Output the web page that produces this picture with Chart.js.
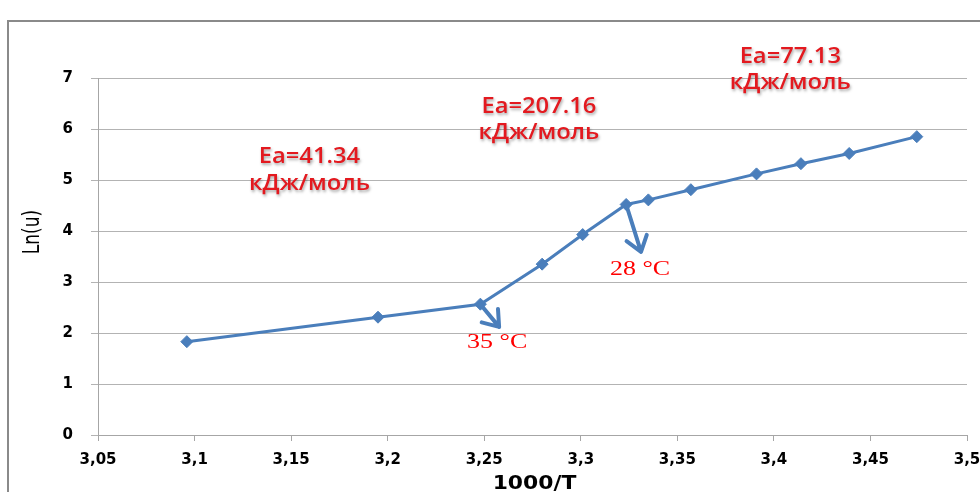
<!DOCTYPE html>
<html>
<head>
<meta charset="utf-8">
<script src="https://cdn.jsdelivr.net/npm/chart.js@4.4.1/dist/chart.umd.min.js"></script>
<style>
  html, body { margin: 0; padding: 0; background: #ffffff; }
  #wrap { position: relative; width: 980px; height: 492px; }
</style>
</head>
<body>
<div id="wrap"><canvas id="c" width="980" height="492"></canvas></div>
<script>
// ---- data ----
const xValues = [3.096, 3.195, 3.248, 3.280, 3.301, 3.3235, 3.335, 3.357, 3.391, 3.414, 3.439, 3.474];
const yValues = [1.83, 2.31, 2.565, 3.35, 3.93, 4.52, 4.61, 4.81, 5.12, 5.32, 5.52, 5.85];
const xTickValues = [3.05, 3.1, 3.15, 3.2, 3.25, 3.3, 3.35, 3.4, 3.45, 3.5];
const xTickLabels = ['3,05', '3,1', '3,15', '3,2', '3,25', '3,3', '3,35', '3,4', '3,45', '3,5'];
const yTickValues = [0, 1, 2, 3, 4, 5, 6, 7];
const yTickLabels = ['0', '1', '2', '3', '4', '5', '6', '7'];
const xTitle = '1000/T';
const yTitle = 'Ln(u)';
const eaTexts = [['Ea=41.34', 'кДж/моль'], ['Ea=207.16', 'кДж/моль'], ['Ea=77.13', 'кДж/моль']];
const tempTexts = ['35 °C', '28 °C'];

// annotation anchors in data units
const eaAnchors = [
  { x: 3.1595, y: [5.45, 4.92] },
  { x: 3.2783, y: [6.43, 5.92] },
  { x: 3.4085, y: [7.41, 6.90] }
];
const arrows = [
  { from: { x: xValues[2], y: yValues[2] }, to: { x: 3.2577, y: 2.12 }, label: { x: 3.2567, y: 1.80 } },
  { from: { x: xValues[5], y: yValues[5] }, to: { x: 3.3312, y: 3.59 }, label: { x: 3.3307, y: 3.24 } }
];

const BLUE = '#4a7ebb';
const RED_EA = '#e3191f';
const RED_T = '#ff0000';

const points = xValues.map((x, i) => ({ x: x, y: yValues[i] }));

function drawArrow(ctx, x1, y1, x2, y2) {
  const ang = Math.atan2(y2 - y1, x2 - x1);
  const head = 18, spread = 36 * Math.PI / 180;
  ctx.save();
  ctx.strokeStyle = BLUE;
  ctx.lineWidth = 4;
  ctx.lineCap = 'round';
  ctx.lineJoin = 'round';
  ctx.beginPath();
  ctx.moveTo(x1, y1);
  ctx.lineTo(x2, y2);
  ctx.moveTo(x2 - head * Math.cos(ang - spread), y2 - head * Math.sin(ang - spread));
  ctx.lineTo(x2, y2);
  ctx.lineTo(x2 - head * Math.cos(ang + spread), y2 - head * Math.sin(ang + spread));
  ctx.stroke();
  ctx.restore();
}

const decor = {
  id: 'decor',
  beforeDraw(chart) {
    const ctx = chart.ctx;
    ctx.save();
    ctx.strokeStyle = '#8a8a8a';
    ctx.lineWidth = 2;
    ctx.beginPath();
    ctx.moveTo(8, 492);
    ctx.lineTo(8, 21);
    ctx.lineTo(980, 21);
    ctx.stroke();
    ctx.restore();
  },
  afterDraw(chart) {
    const ctx = chart.ctx;
    const xs = chart.scales.x, ys = chart.scales.y;
    const ca = chart.chartArea;

    arrows.forEach(a => {
      drawArrow(ctx, xs.getPixelForValue(a.from.x), ys.getPixelForValue(a.from.y),
                xs.getPixelForValue(a.to.x), ys.getPixelForValue(a.to.y));
    });

    arrows.forEach((a, i) => {
      ctx.save();
      ctx.translate(xs.getPixelForValue(a.label.x), ys.getPixelForValue(a.label.y));
      ctx.scale(1.3, 1);
      ctx.font = '20px "Liberation Serif", "DejaVu Serif", serif';
      ctx.fillStyle = RED_T;
      ctx.textAlign = 'center';
      ctx.textBaseline = 'middle';
      ctx.fillText(tempTexts[i], 0, 0);
      ctx.restore();
    });

    eaTexts.forEach((lines, i) => {
      const an = eaAnchors[i];
      lines.forEach((t, j) => {
        ctx.save();
        ctx.translate(xs.getPixelForValue(an.x), ys.getPixelForValue(an.y[j]));
        ctx.scale(1.13, 1);
        ctx.font = '600 21px "Open Sans", "DejaVu Sans", sans-serif';
        ctx.fillStyle = RED_EA;
        ctx.shadowColor = 'rgba(0,0,0,0.35)';
        ctx.shadowBlur = 3;
        ctx.shadowOffsetX = 1;
        ctx.shadowOffsetY = 2;
        ctx.textAlign = 'center';
        ctx.textBaseline = 'middle';
        ctx.fillText(t, 0, 0);
        ctx.restore();
      });
    });

    ctx.save();
    ctx.translate(33, 232);
    ctx.scale(1.35, 1);
    ctx.rotate(-Math.PI / 2);
    ctx.font = '500 17px "DejaVu Sans", sans-serif';
    ctx.fillStyle = '#000000';
    ctx.textAlign = 'center';
    ctx.textBaseline = 'middle';
    ctx.fillText(yTitle, 0, 0);
    ctx.restore();

    ctx.save();
    ctx.translate((ca.left + ca.right) / 2 + 2, 484);
    ctx.scale(1.15, 1);
    ctx.font = 'bold 19px "DejaVu Sans", sans-serif';
    ctx.fillStyle = '#000000';
    ctx.textAlign = 'center';
    ctx.textBaseline = 'middle';
    ctx.fillText(xTitle, 0, 0);
    ctx.restore();
  }
};

new Chart(document.getElementById('c'), {
  type: 'line',
  data: {
    datasets: [{
      data: points,
      borderColor: BLUE,
      backgroundColor: BLUE,
      borderWidth: 3,
      pointStyle: 'rectRot',
      pointRadius: 6,
      pointBorderWidth: 1,
      pointBackgroundColor: BLUE,
      pointBorderColor: BLUE,
      tension: 0,
      fill: false
    }]
  },
  options: {
    responsive: false,
    animation: false,
    devicePixelRatio: 1,
    layout: { padding: { top: 78, right: 13, left: 0, bottom: 0 } },
    plugins: { legend: { display: false }, tooltip: { enabled: false } },
    scales: {
      x: {
        type: 'linear',
        min: 3.05,
        max: 3.5,
        afterBuildTicks(scale) { scale.ticks = xTickValues.map(v => ({ value: v })); },
        afterFit(scale) { scale.height = 57; scale.paddingRight = 0; },
        ticks: {
          callback: (v, i) => xTickLabels[i],
          color: '#000000',
          font: { family: '"DejaVu Sans", sans-serif', size: 15, weight: 'bold' },
          padding: 10,
          maxRotation: 0,
          autoSkip: false
        },
        grid: { drawOnChartArea: false, drawTicks: true, tickLength: 6, color: '#a6a6a6', lineWidth: 1 },
        border: { display: true, color: '#a6a6a6', width: 1 },
        title: { display: false }
      },
      y: {
        type: 'linear',
        min: 0,
        max: 7,
        afterBuildTicks(scale) { scale.ticks = yTickValues.map(v => ({ value: v })); },
        afterFit(scale) { scale.width = 98; },
        ticks: {
          callback: (v, i) => yTickLabels[i],
          color: '#000000',
          font: { family: '"DejaVu Sans", sans-serif', size: 15, weight: 'bold' },
          padding: 18
        },
        grid: { drawOnChartArea: true, drawTicks: true, tickLength: 7, color: '#b3b3b3', lineWidth: 1 },
        border: { display: true, color: '#a6a6a6', width: 1 },
        title: { display: false }
      }
    }
  },
  plugins: [decor]
});
</script>
</body>
</html>
